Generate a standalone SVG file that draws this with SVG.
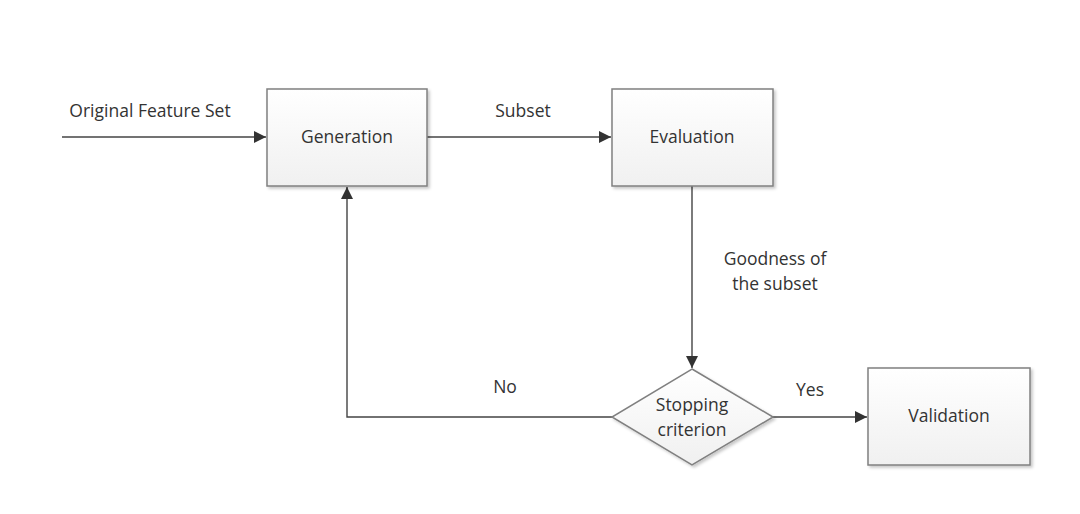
<svg xmlns="http://www.w3.org/2000/svg" width="1080" height="514" viewBox="0 0 1080 514">
<style>
text{font-family:"Open Sans","Liberation Sans",Arial,sans-serif;font-size:17.5px;fill:#333;text-anchor:middle}
.box{fill:url(#g);stroke:#808080;stroke-width:1.5}
.ln{fill:none;stroke:#444;stroke-width:1.4}
</style>
<defs>
<linearGradient id="g" x1="0" y1="0" x2="0" y2="1"><stop offset="0" stop-color="#ffffff"/><stop offset="1" stop-color="#f0f0f0"/></linearGradient>
<filter id="sh" x="-10%" y="-10%" width="130%" height="130%"><feDropShadow dx="2" dy="2" stdDeviation="1.5" flood-color="#000" flood-opacity="0.22"/></filter>
<marker id="a" viewBox="0 0 10 10" refX="10" refY="5" markerWidth="12" markerHeight="12" markerUnits="userSpaceOnUse" orient="auto"><path d="M0,0L10,5L0,10z" fill="#333"/></marker>
</defs>
<rect width="1080" height="514" fill="#fff"/>
<g id="connectors">
<path class="ln" d="M62,137H266" marker-end="url(#a)"/>
<path class="ln" d="M427,137H611" marker-end="url(#a)"/>
<path class="ln" d="M692,186V368" marker-end="url(#a)"/>
<path class="ln" d="M773,417H867" marker-end="url(#a)"/>
<path class="ln" d="M612,417H347V187" marker-end="url(#a)"/>
<text x="150" y="117">Original Feature Set</text>
<text x="523" y="117">Subset</text>
<text x="775" y="265">Goodness of</text>
<text x="775" y="290">the subset</text>
<text x="505" y="393">No</text>
<text x="810" y="396">Yes</text>
</g>
<g id="generation"><rect class="box" x="267" y="89" width="160" height="97" filter="url(#sh)"/><text x="347" y="143">Generation</text></g>
<g id="evaluation"><rect class="box" x="612" y="89" width="161" height="97" filter="url(#sh)"/><text x="692" y="143">Evaluation</text></g>
<g id="stopping"><path class="box" d="M692,369L773,417L692,465L612,417z" filter="url(#sh)"/><text x="692" y="411">Stopping</text><text x="692" y="436">criterion</text></g>
<g id="validation"><rect class="box" x="868" y="368" width="162" height="97" filter="url(#sh)"/><text x="949" y="422">Validation</text></g>
</svg>
